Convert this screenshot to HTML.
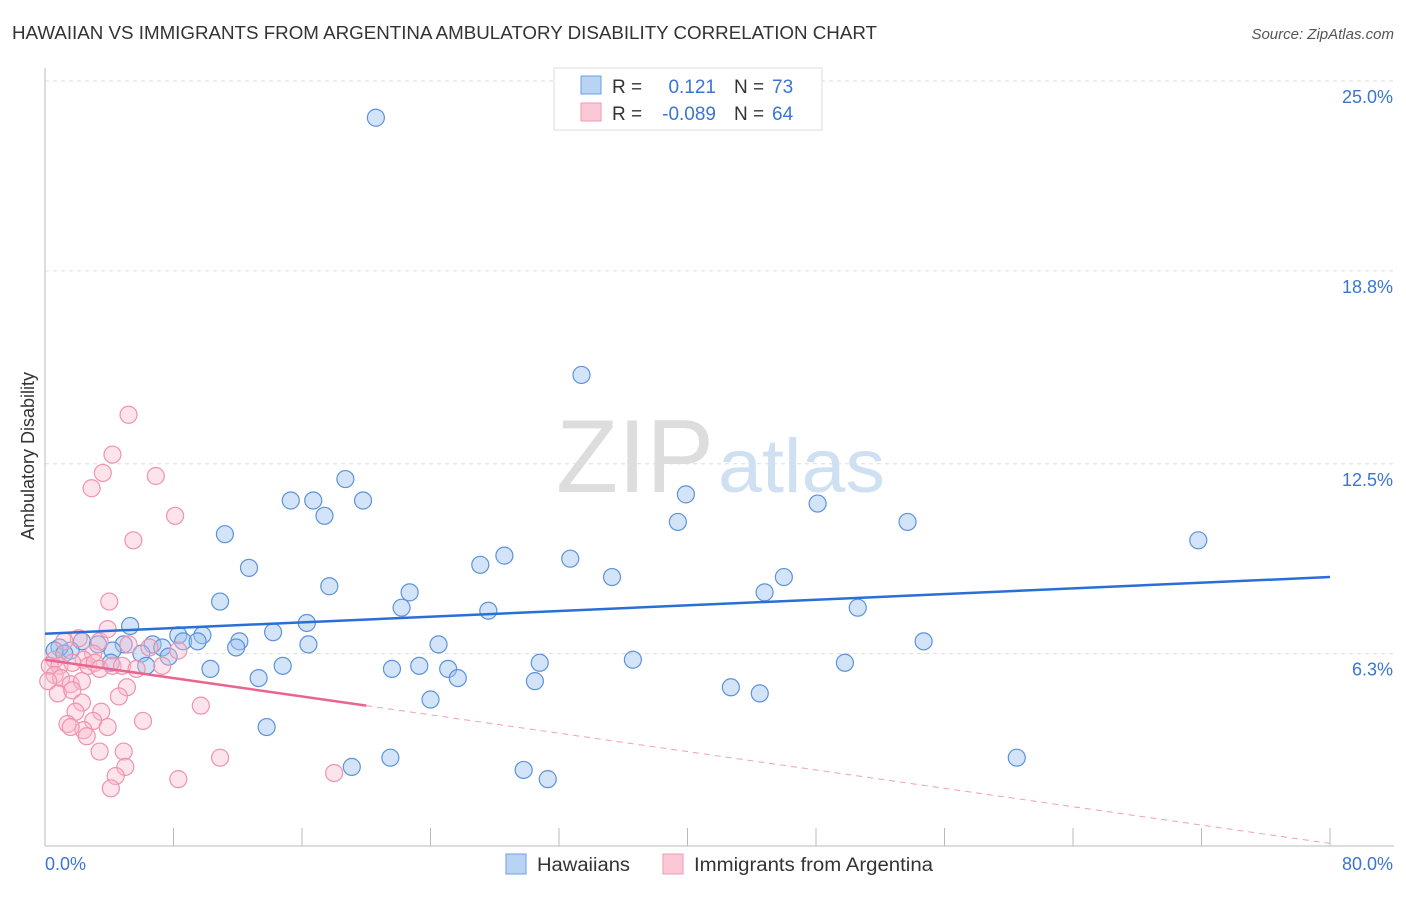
<!DOCTYPE html>
<html><head><meta charset="utf-8"><style>
body{margin:0;background:#fff;font-family:"Liberation Sans",sans-serif;}
svg text{font-family:"Liberation Sans",sans-serif;}
</style></head><body>
<svg width="1406" height="892" xmlns="http://www.w3.org/2000/svg" id="chart">
<text x="12" y="39" font-size="18" fill="#333" textLength="865" lengthAdjust="spacingAndGlyphs">HAWAIIAN VS IMMIGRANTS FROM ARGENTINA AMBULATORY DISABILITY CORRELATION CHART</text>
<text x="1394" y="39" font-size="15" fill="#555" text-anchor="end" font-style="italic">Source: ZipAtlas.com</text>
<text x="714" y="492" font-size="104" fill="#ddd" text-anchor="end" font-family="Liberation Serif" textLength="158" lengthAdjust="spacingAndGlyphs">ZIP</text>
<text x="718" y="492" font-size="76" fill="#cfe0f3" textLength="167" lengthAdjust="spacingAndGlyphs">atlas</text>
<g id="grid"></g><g id="axes"></g><g id="pts"></g><g id="trend"></g>
<text transform="translate(34,456) rotate(-90)" font-size="18" fill="#333" text-anchor="middle">Ambulatory Disability</text>
<text x="45" y="870" font-size="18" fill="#3a75d4">0.0%</text>
<text x="1393" y="870" font-size="18" fill="#3a75d4" text-anchor="end">80.0%</text>
<g>
<rect x="554" y="68" width="268" height="62" fill="#fff" stroke="#ddd"/>
<rect x="581" y="76" width="20" height="18" fill="#b9d3f5" stroke="#6d9fe0"/>
<rect x="581" y="103" width="20" height="18" fill="#fbc8d6" stroke="#f09ab2"/>
<text x="612" y="93" font-size="19" fill="#333">R =</text><text x="716" y="93" font-size="19" fill="#3a75d4" text-anchor="end">0.121</text>
<text x="734" y="93" font-size="19" fill="#333">N =</text><text x="772" y="93" font-size="19" fill="#3a75d4">73</text>
<text x="612" y="120" font-size="19" fill="#333">R =</text><text x="716" y="120" font-size="19" fill="#3a75d4" text-anchor="end">-0.089</text>
<text x="734" y="120" font-size="19" fill="#333">N =</text><text x="772" y="120" font-size="19" fill="#3a75d4">64</text>
</g>
<g>
<rect x="506" y="854" width="20" height="20" fill="#b9d3f5" stroke="#6d9fe0"/>
<text x="537" y="871" font-size="19" fill="#333" textLength="93" lengthAdjust="spacingAndGlyphs">Hawaiians</text>
<rect x="663" y="854" width="20" height="20" fill="#fbc8d6" stroke="#f09ab2"/>
<text x="694" y="871" font-size="19" fill="#333" textLength="239" lengthAdjust="spacingAndGlyphs">Immigrants from Argentina</text>
</g>
</svg>
<script>
const yTicks=[25,18.8,12.5,6.3];
const yTickLabels=["25.0%","18.8%","12.5%","6.3%"];
const xTicks=[0,8,16,24,32,40,48,56,64,72,80];
const blueX=[20.6,33.4,18.7,15.3,16.7,19.8,17.4,39.9,39.4,48.1,53.7,71.8,11.2,12.7,10.9,17.7,22.7,22.2,27.1,28.6,32.7,35.3,46.0,44.8,27.6,50.6,54.7,5.3,16.3,14.2,8.3,9.8,12.1,8.6,9.5,11.9,6.7,4.9,7.3,7.7,6.0,4.2,2.3,3.3,1.6,0.9,0.6,1.2,4.1,6.3,10.3,13.3,14.8,16.4,24.5,21.6,23.3,25.1,25.7,30.8,30.5,36.6,42.7,44.5,49.8,24.0,13.8,19.1,21.5,29.8,31.3,60.5];
const blueY=[23.8,15.4,12.0,11.3,11.3,11.3,10.8,11.5,10.6,11.2,10.6,10.0,10.2,9.1,8.0,8.5,8.3,7.8,9.2,9.5,9.4,8.8,8.8,8.3,7.7,7.8,6.7,7.2,7.3,7.0,6.9,6.9,6.7,6.7,6.7,6.5,6.6,6.6,6.5,6.2,6.3,6.4,6.7,6.6,6.4,6.5,6.4,6.3,6.0,5.9,5.8,5.5,5.9,6.6,6.6,5.8,5.9,5.8,5.5,6.0,5.4,6.1,5.2,5.0,6.0,4.8,3.9,2.6,2.9,2.5,2.2,2.9];
const pinkX=[5.2,4.2,3.6,6.9,2.9,8.1,5.5,4.0,3.4,2.1,1.2,6.5,8.3,5.2,3.0,2.4,0.6,0.3,0.9,1.7,2.7,3.1,3.4,4.2,4.8,5.7,0.6,1.0,0.2,1.6,2.3,0.8,1.7,5.1,4.6,2.3,9.7,1.9,3.5,1.4,3.0,6.1,2.4,1.6,3.9,2.6,3.4,4.9,5.0,4.4,4.1,8.3,10.9,18.0,3.9,7.3];
const pinkY=[14.1,12.8,12.2,12.1,11.7,10.8,10.0,8.0,6.7,6.8,6.7,6.5,6.4,6.6,6.3,6.1,6.1,5.9,5.9,6.0,5.9,6.0,5.8,5.9,5.9,5.8,5.6,5.5,5.4,5.3,5.4,5.0,5.1,5.2,4.9,4.7,4.6,4.4,4.4,4.0,4.1,4.1,3.8,3.9,3.9,3.6,3.1,3.1,2.6,2.3,1.9,2.2,2.9,2.4,7.1,5.9];
const blueTrend=[6.95,8.8];
const pinkTrend=[6.1,0.1];
const pinkSolidEnd=20;
const NS="http://www.w3.org/2000/svg";
const X0=45,X1=1330,Y0=846.5,YTOP=81;
function sx(v){return X0+(v/80)*(X1-X0);}
function sy(v){return Y0-(v/25)*(Y0-YTOP);}
function mk(parent,tag,attrs){const e=document.createElementNS(NS,tag);for(const k in attrs)e.setAttribute(k,attrs[k]);document.getElementById(parent).appendChild(e);return e;}
yTicks.forEach((t,i)=>{
  const l=mk('grid','line',{x1:X0,x2:1394,y1:sy(t),y2:sy(t),stroke:'#ddd','stroke-dasharray':'4,4'});
  
  
  const tx=mk('grid','text',{x:1393,y:sy(t)+22,'font-size':18,fill:'#3a75d4','text-anchor':'end'});
  tx.textContent=yTickLabels[i];
  
  
});
let a=mk('axes','line',{x1:X0,x2:X0,y1:68,y2:846,stroke:'#bbb'});


a=mk('axes','line',{x1:X0,x2:1394,y1:846,y2:846,stroke:'#bbb'});


xTicks.forEach(t=>{
  const l=mk('axes','line',{x1:sx(t),x2:sx(t),y1:828,y2:846,stroke:'#bbb'});
  
  
});
blueX.forEach((x,i)=>{
  const c=mk('pts','circle',{cx:sx(x),cy:sy(blueY[i]),r:8.5,fill:'rgba(160,195,240,0.45)',stroke:'#5b93dc','stroke-width':1.2});
  
  
});
pinkX.forEach((x,i)=>{
  const c=mk('pts','circle',{cx:sx(x),cy:sy(pinkY[i]),r:8.5,fill:'rgba(250,185,205,0.4)',stroke:'#ef93ae','stroke-width':1.2});
  
  
});
let t=mk('trend','line',{x1:sx(0),y1:sy(blueTrend[0]),x2:sx(80),y2:sy(blueTrend[1]),stroke:'#2a6fd6','stroke-width':2.5});


const pAt=v=>pinkTrend[0]+(pinkTrend[1]-pinkTrend[0])*v/80;
t=mk('trend','line',{x1:sx(0),y1:sy(pAt(0)),x2:sx(pinkSolidEnd),y2:sy(pAt(pinkSolidEnd)),stroke:'#e9658f','stroke-width':2.5});


t=mk('trend','line',{x1:sx(pinkSolidEnd),y1:sy(pAt(pinkSolidEnd)),x2:sx(80),y2:sy(pAt(80)),stroke:'#f0a0b8','stroke-width':1,'stroke-dasharray':'6,5'});


</script>
</body></html>
